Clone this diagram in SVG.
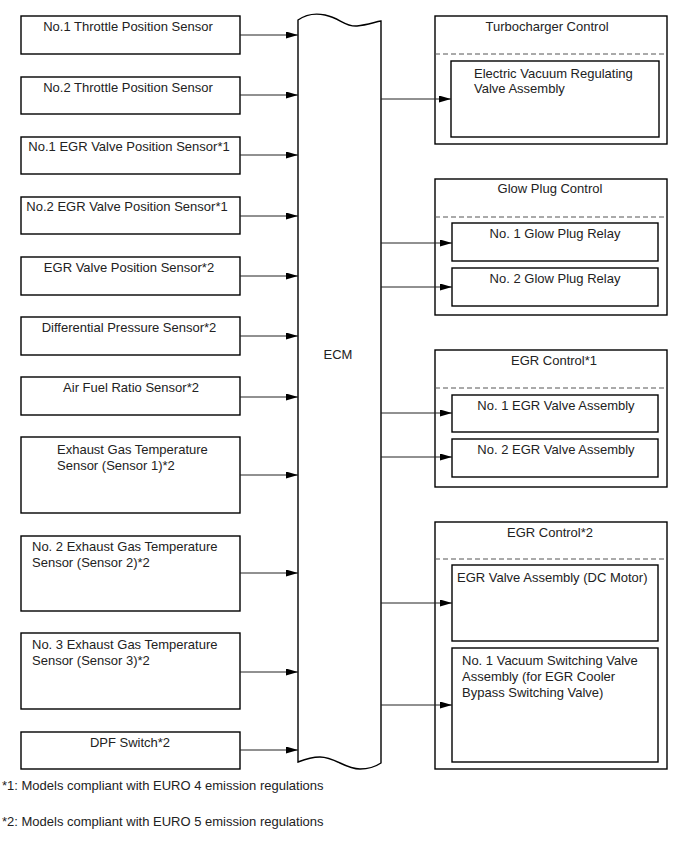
<svg xmlns="http://www.w3.org/2000/svg" width="688" height="852" viewBox="0 0 688 852">
<style>
.box{fill:#fff;stroke:#000;stroke-width:1.4}
.t{font-family:"Liberation Sans",Arial,sans-serif;font-size:13px;fill:#222}
.c{text-anchor:middle}
.dash{stroke:#555;stroke-width:1;stroke-dasharray:5,3;fill:none}
.conn{stroke:#222;stroke-width:1;fill:none;marker-end:url(#arr)}
</style>
<defs>
<marker id="arr" markerUnits="userSpaceOnUse" markerWidth="12" markerHeight="8" refX="12" refY="3.5" orient="auto">
<path d="M0,0 L12,3.5 L0,7 z" fill="#000"/>
</marker>
</defs>
<rect width="688" height="852" fill="#fff"/>

<g id="s1"><rect class="box" x="21" y="16" width="219" height="38"/><text class="t c" x="128" y="31">No.1 Throttle Position Sensor</text></g>
<g id="s2"><rect class="box" x="21" y="77" width="219" height="37"/><text class="t c" x="128" y="92">No.2 Throttle Position Sensor</text></g>
<g id="s3"><rect class="box" x="21" y="137" width="219" height="37"/><text class="t c" x="129" y="151">No.1 EGR Valve Position Sensor*1</text></g>
<g id="s4"><rect class="box" x="21" y="197" width="219" height="37"/><text class="t c" x="127" y="211">No.2 EGR Valve Position Sensor*1</text></g>
<g id="s5"><rect class="box" x="21" y="257" width="219" height="38"/><text class="t c" x="129" y="272">EGR Valve Position Sensor*2</text></g>
<g id="s6"><rect class="box" x="21" y="317" width="219" height="38"/><text class="t c" x="129" y="332">Differential Pressure Sensor*2</text></g>
<g id="s7"><rect class="box" x="21" y="377" width="219" height="38"/><text class="t c" x="131" y="392">Air Fuel Ratio Sensor*2</text></g>
<g id="s8"><rect class="box" x="21" y="437" width="219" height="76"/><text class="t" x="57" y="454">Exhaust Gas Temperature</text><text class="t" x="57" y="470">Sensor (Sensor 1)*2</text></g>
<g id="s9"><rect class="box" x="21" y="536" width="219" height="75"/><text class="t" x="32" y="551">No. 2 Exhaust Gas Temperature</text><text class="t" x="32" y="567">Sensor (Sensor 2)*2</text></g>
<g id="s10"><rect class="box" x="21" y="633" width="219" height="76"/><text class="t" x="32" y="649">No. 3 Exhaust Gas Temperature</text><text class="t" x="32" y="665">Sensor (Sensor 3)*2</text></g>
<g id="s11"><rect class="box" x="21" y="732" width="219" height="37"/><text class="t c" x="130" y="747">DPF Switch*2</text></g>

<g id="ecm">
<path class="box" d="M298,20 C305,15 315,13 325,15 C340,18 345,27 357,26 C367,25 375,22 381,21 L381,763 C375,767 368,769 360,769 C345,769 335,757 320,757 C310,757 303,760 298,762 Z"/>
<text class="t c" x="338" y="359">ECM</text>
</g>

<g id="turbo">
<rect class="box" x="435" y="16" width="232" height="128"/>
<line class="dash" x1="435" y1="54" x2="667" y2="54"/>
<text class="t c" x="547" y="31">Turbocharger Control</text>
<g id="evrv"><rect class="box" x="451" y="61" width="208" height="76"/><text class="t" x="474" y="78">Electric Vacuum Regulating</text><text class="t" x="474" y="93">Valve Assembly</text></g>
</g>

<g id="glow">
<rect class="box" x="435" y="179" width="232" height="136"/>
<line class="dash" x1="435" y1="217" x2="667" y2="217"/>
<text class="t c" x="550" y="193">Glow Plug Control</text>
<g id="gpr1"><rect class="box" x="452" y="223" width="206" height="38"/><text class="t c" x="555" y="238">No. 1 Glow Plug Relay</text></g>
<g id="gpr2"><rect class="box" x="452" y="268" width="206" height="38"/><text class="t c" x="555" y="283">No. 2 Glow Plug Relay</text></g>
</g>

<g id="egr1">
<rect class="box" x="435" y="350" width="232" height="137"/>
<line class="dash" x1="435" y1="388" x2="667" y2="388"/>
<text class="t c" x="554" y="365">EGR Control*1</text>
<g id="egrv1"><rect class="box" x="452" y="395" width="206" height="37"/><text class="t c" x="556" y="410">No. 1 EGR Valve Assembly</text></g>
<g id="egrv2"><rect class="box" x="452" y="439" width="206" height="38"/><text class="t c" x="556" y="454">No. 2 EGR Valve Assembly</text></g>
</g>

<g id="egr2">
<rect class="box" x="435" y="522" width="232" height="247"/>
<line class="dash" x1="435" y1="559" x2="667" y2="559"/>
<text class="t c" x="550" y="537">EGR Control*2</text>
<g id="egrdc"><rect class="box" x="452" y="565" width="206" height="76"/><text class="t" x="457" y="582">EGR Valve Assembly (DC Motor)</text></g>
<g id="vsv"><rect class="box" x="452" y="648" width="206" height="114"/><text class="t" x="462" y="665">No. 1 Vacuum Switching Valve</text><text class="t" x="462" y="681">Assembly (for EGR Cooler</text><text class="t" x="462" y="697">Bypass Switching Valve)</text></g>
</g>

<g id="connectors">
<line class="conn" x1="240" y1="35" x2="298" y2="35"/>
<line class="conn" x1="240" y1="95" x2="298" y2="95"/>
<line class="conn" x1="240" y1="155" x2="298" y2="155"/>
<line class="conn" x1="240" y1="216" x2="298" y2="216"/>
<line class="conn" x1="240" y1="276" x2="298" y2="276"/>
<line class="conn" x1="240" y1="336" x2="298" y2="336"/>
<line class="conn" x1="240" y1="397" x2="298" y2="397"/>
<line class="conn" x1="240" y1="475" x2="298" y2="475"/>
<line class="conn" x1="240" y1="573" x2="298" y2="573"/>
<line class="conn" x1="240" y1="672" x2="298" y2="672"/>
<line class="conn" x1="240" y1="750" x2="298" y2="750"/>
<line class="conn" x1="381" y1="99" x2="451" y2="99"/>
<line class="conn" x1="381" y1="243" x2="452" y2="243"/>
<line class="conn" x1="381" y1="287" x2="452" y2="287"/>
<line class="conn" x1="381" y1="413" x2="452" y2="413"/>
<line class="conn" x1="381" y1="457" x2="452" y2="457"/>
<line class="conn" x1="381" y1="603" x2="452" y2="603"/>
<line class="conn" x1="381" y1="705" x2="452" y2="705"/>
</g>

<text class="t" x="2" y="790">*1: Models compliant with EURO 4 emission regulations</text>
<text class="t" x="2" y="826">*2: Models compliant with EURO 5 emission regulations</text>
</svg>
